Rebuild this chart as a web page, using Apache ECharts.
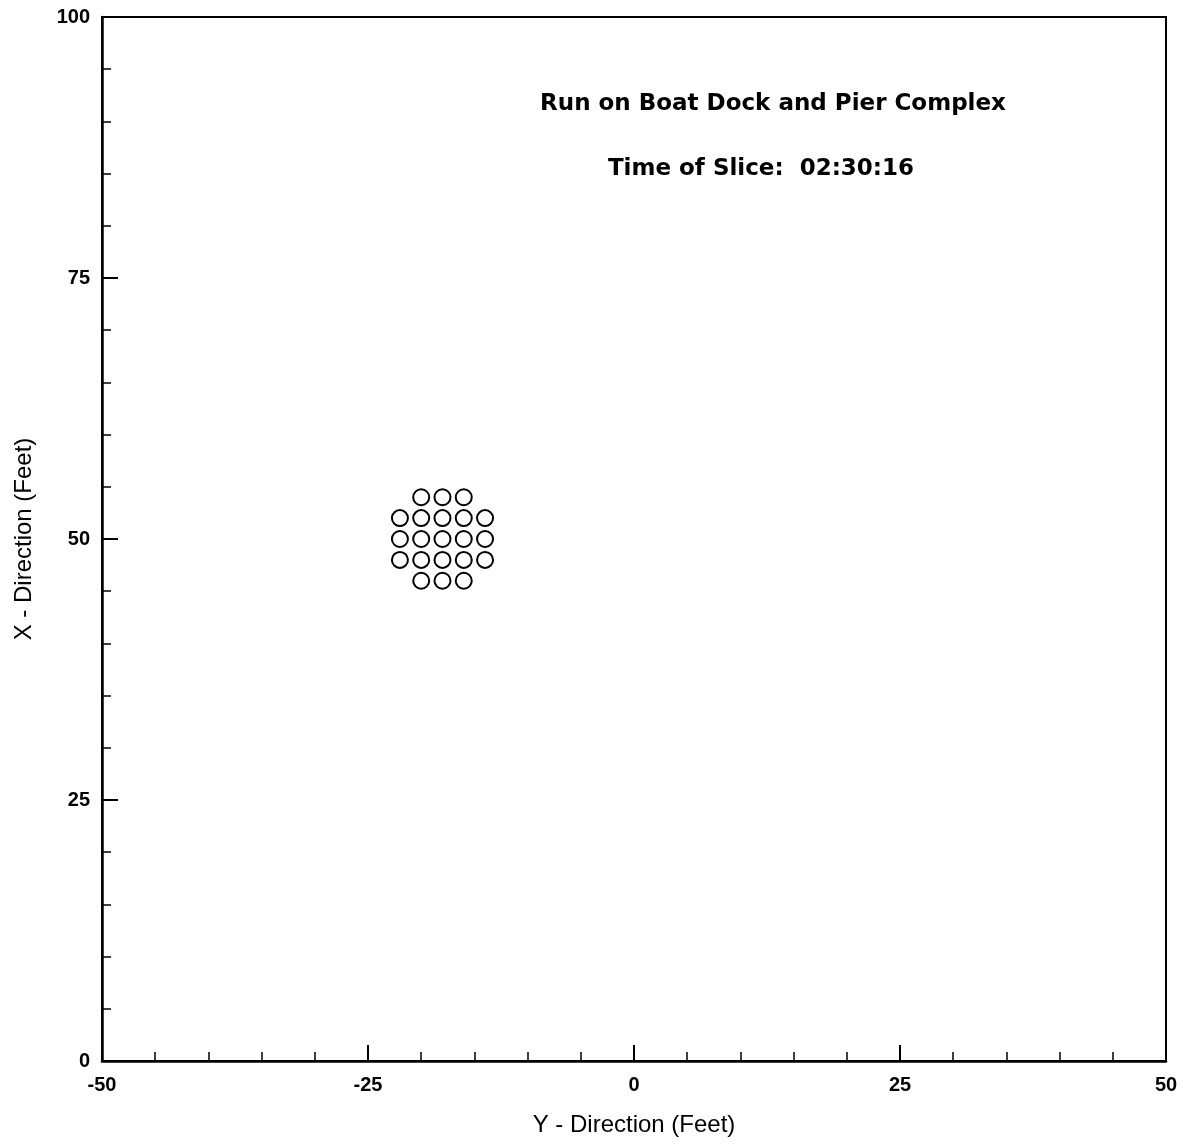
<!DOCTYPE html>
<html>
<head>
<meta charset="utf-8">
<script src="https://cdn.jsdelivr.net/npm/echarts@6/dist/echarts.min.js"></script>
<style>
  html, body { margin: 0; padding: 0; background: #fff; }
  #slice-chart { width: 1191px; height: 1145px; }
</style>
</head>
<body>
<div id="slice-chart"></div>
<script>
'use strict';

// particle positions at this time slice (feet)
var yDir = [-20, -18, -16,
            -22, -20, -18, -16, -14,
            -22, -20, -18, -16, -14,
            -22, -20, -18, -16, -14,
            -20, -18, -16];
var xDir = [54, 54, 54,
            52, 52, 52, 52, 52,
            50, 50, 50, 50, 50,
            48, 48, 48, 48, 48,
            46, 46, 46];

var titleText = 'Run on Boat Dock and Pier Complex';
var sliceText = 'Time of Slice:  02:30:16';

var points = [];
for (var i = 0; i < yDir.length; i++) {
  points.push([yDir[i], xDir[i]]);
}

var font = 'Liberation Sans, Arial, sans-serif';
var headFont = 'DejaVu Sans, Verdana, sans-serif';

// shared axis look: inward ticks, minor every 5 ft
function axisStyle(extra) {
  var a = {
    interval: 25,
    axisLine: { onZero: false, lineStyle: { color: '#000', width: 2.5 } },
    axisTick: { inside: true, length: 16, lineStyle: { color: '#000', width: 2 } },
    minorTick: { show: true, splitNumber: 5, length: 9, lineStyle: { color: '#000', width: 1.5 } },
    splitLine: { show: false },
    axisLabel: { color: '#000', fontSize: 20, fontWeight: 'bold', fontFamily: font },
    nameTextStyle: { color: '#000', fontSize: 24, fontFamily: font }
  };
  for (var k in extra) a[k] = extra[k];
  return a;
}

var chart = echarts.init(document.getElementById('slice-chart'));

var option = {
  backgroundColor: '#fff',
  animation: false,
  title: [
    {
      text: titleText,
      left: 768, top: 88, textAlign: 'center',
      textStyle: { color: '#000', fontSize: 23, fontWeight: 'bold', fontFamily: headFont }
    },
    {
      text: sliceText,
      left: 756, top: 153, textAlign: 'center',
      textStyle: { color: '#000', fontSize: 23, fontWeight: 'bold', fontFamily: headFont }
    }
  ],
  grid: {
    left: 102, right: 25, top: 17, bottom: 84,
    show: true, borderColor: '#000', borderWidth: 2
  },
  xAxis: axisStyle({
    type: 'value', min: -50, max: 50,
    name: 'Y - Direction (Feet)', nameLocation: 'middle', nameGap: 52
  }),
  yAxis: axisStyle({
    type: 'value', min: 0, max: 100,
    name: 'X - Direction (Feet)', nameLocation: 'middle', nameGap: 66
  }),
  series: [{
    type: 'scatter',
    symbol: 'emptyCircle',
    symbolSize: 16,
    itemStyle: { color: '#000', borderWidth: 3, opacity: 1 },
    data: points
  }]
};

option.xAxis.axisLabel.margin = 14;
option.yAxis.axisLabel.margin = 12;

chart.setOption(option);
</script>
</body>
</html>
